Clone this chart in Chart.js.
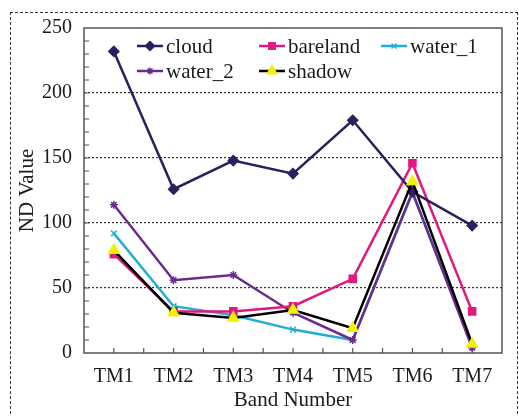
<!DOCTYPE html>
<html>
<head>
<meta charset="utf-8">
<script src="https://cdn.jsdelivr.net/npm/chart.js@4"></script>
<style>
  html, body { margin: 0; padding: 0; background: #fff; overflow: hidden; }
  #wrap { position: relative; width: 519px; height: 416px; }
  #frame { position: absolute; left: 10px; top: 12px; width: 506px; height: 420px; border: 1.5px dashed #333; }
  canvas { position: absolute; left: 0; top: 0; }
</style>
</head>
<body>
<div id="wrap">
  <div id="frame"></div>
  <canvas id="chart" width="519" height="416"></canvas>
</div>
<script>
// band labels along the x axis
const bands = ['TM1', 'TM2', 'TM3', 'TM4', 'TM5', 'TM6', 'TM7'];

// ND values
const cloud    = [232, 126, 148, 138, 179, 124, 98];
const bareland = [76, 32, 32, 36, 57, 146, 32];
const water1   = [92, 36, 29, 18, 10, 123, 6];
const water2   = [114, 56, 60, 31, 10, 124, 4];
const shadow   = [79, 31, 27, 33, 19, 132, 7];

const yMajor = 50;   // labelled ticks / dotted grid
const yMinor = 10;   // small inward ticks

const serif = '"Liberation Serif", "Times New Roman", serif';

function toPoints(arr) {
  return arr.map((v, i) => ({ x: i + 1, y: v }));
}

const datasets = [
  { label: 'cloud', data: toPoints(cloud), borderColor: '#2d1f5e', backgroundColor: '#2d1f5e',
    pointStyle: 'rectRot', pointRadius: 5, order: 1 },
  { label: 'bareland', data: toPoints(bareland), borderColor: '#e0197f', backgroundColor: '#e0197f',
    pointStyle: 'rect', pointRadius: 5, order: 2 },
  { label: 'water_1', data: toPoints(water1), borderColor: '#22aed6', backgroundColor: '#22aed6',
    pointStyle: 'crossRot', pointRadius: 4, order: 4 },
  { label: 'water_2', data: toPoints(water2), borderColor: '#6b2a8e', backgroundColor: '#6b2a8e',
    pointStyle: 'star', pointRadius: 4, order: 3 },
  { label: 'shadow', data: toPoints(shadow), borderColor: '#000', backgroundColor: '#f2f200',
    pointBorderColor: '#f2f200', pointStyle: 'triangle', pointRadius: 6, order: 0 }
];
datasets.forEach(d => {
  d.borderWidth = 2.5;
  d.pointBorderWidth = 1.5;
  d.pointBackgroundColor = d.backgroundColor;
  d.pointBorderColor = d.pointBorderColor || d.borderColor;
  d.tension = 0;
});

// box, inward ticks and the in-plot legend
const decorations = {
  id: 'decorations',
  beforeDatasetsDraw(chart) {
    const { ctx, chartArea: a, scales: { x, y } } = chart;
    ctx.save();
    ctx.strokeStyle = '#555';
    ctx.lineWidth = 1.5;
    ctx.strokeRect(a.left, a.top, a.right - a.left, a.bottom - a.top);
    ctx.lineWidth = 1.2;
    ctx.beginPath();
    x.ticks.forEach(t => {
      const px = x.getPixelForValue(t.value);
      if (px <= a.left + 1 || px >= a.right - 1) return;
      ctx.moveTo(px, a.bottom);
      ctx.lineTo(px, a.bottom - 5);
    });
    y.ticks.forEach(t => {
      const py = y.getPixelForValue(t.value);
      if (py <= a.top + 1 || py >= a.bottom - 1) return;
      ctx.moveTo(a.left, py);
      ctx.lineTo(a.left + 5, py);
    });
    ctx.stroke();
    ctx.restore();
  },
  afterDatasetsDraw(chart) {
    const { ctx, chartArea: a } = chart;
    ctx.save();
    ctx.font = '21px ' + serif;
    ctx.textBaseline = 'middle';
    chart.data.datasets.forEach((d, i) => {
      const col = i % 3, row = Math.floor(i / 3);
      const x0 = a.left + 53 + col * 122;
      const y0 = a.top + 18 + row * 25;
      ctx.strokeStyle = d.borderColor;
      ctx.lineWidth = 2.5;
      ctx.beginPath();
      ctx.moveTo(x0, y0);
      ctx.lineTo(x0 + 26, y0);
      ctx.stroke();
      ctx.fillStyle = d.pointBackgroundColor;
      ctx.strokeStyle = d.pointBorderColor;
      ctx.lineWidth = 1.5;
      Chart.helpers.drawPoint(ctx, { pointStyle: d.pointStyle, radius: d.pointRadius - 0.5, rotation: 0, borderWidth: 1.5 }, x0 + 13, y0);
      ctx.fillStyle = '#1a1a1a';
      ctx.fillText(d.label, x0 + 29, y0 + 1);
    });
    ctx.restore();
  }
};

new Chart('chart', {
  type: 'line',
  data: { datasets: datasets },
  options: {
    responsive: false,
    animation: false,
    layout: { padding: { left: 17, right: 17, top: 28, bottom: 5 } },
    plugins: { legend: { display: false }, tooltip: { enabled: false } },
    scales: {
      x: {
        type: 'linear',
        min: 0.5,
        max: 7.5,
        grid: { display: false, drawTicks: false },
        border: { display: false },
        ticks: {
          stepSize: 0.5,
          autoSkip: false,
          maxRotation: 0,
          padding: 14,
          color: '#1a1a1a',
          font: { family: serif, size: 20, lineHeight: 1 },
          callback: v => Number.isInteger(v) ? bands[v - 1] : ''
        },
        title: { display: true, text: 'Band Number', color: '#1a1a1a',
          font: { family: serif, size: 21, lineHeight: 1 }, padding: { top: -11, bottom: 0 } }
      },
      y: {
        min: 0,
        max: 250,
        grid: {
          drawTicks: false,
          lineWidth: 1.2,
          color: c => (c.tick && c.tick.value % yMajor === 0 && c.tick.value > 0 && c.tick.value < 250) ? '#333' : 'rgba(0,0,0,0)'
        },
        border: { display: false, dash: [2, 2] },
        ticks: {
          stepSize: yMinor,
          autoSkip: false,
          padding: 12,
          color: '#1a1a1a',
          font: { family: serif, size: 20, lineHeight: 1 },
          callback: v => v % yMajor === 0 ? v : ''
        },
        title: { display: true, text: 'ND Value', color: '#1a1a1a',
          font: { family: serif, size: 21, lineHeight: 1 }, padding: { top: 0, bottom: -8 } }
      }
    }
  },
  plugins: [decorations]
});
</script>
</body>
</html>
